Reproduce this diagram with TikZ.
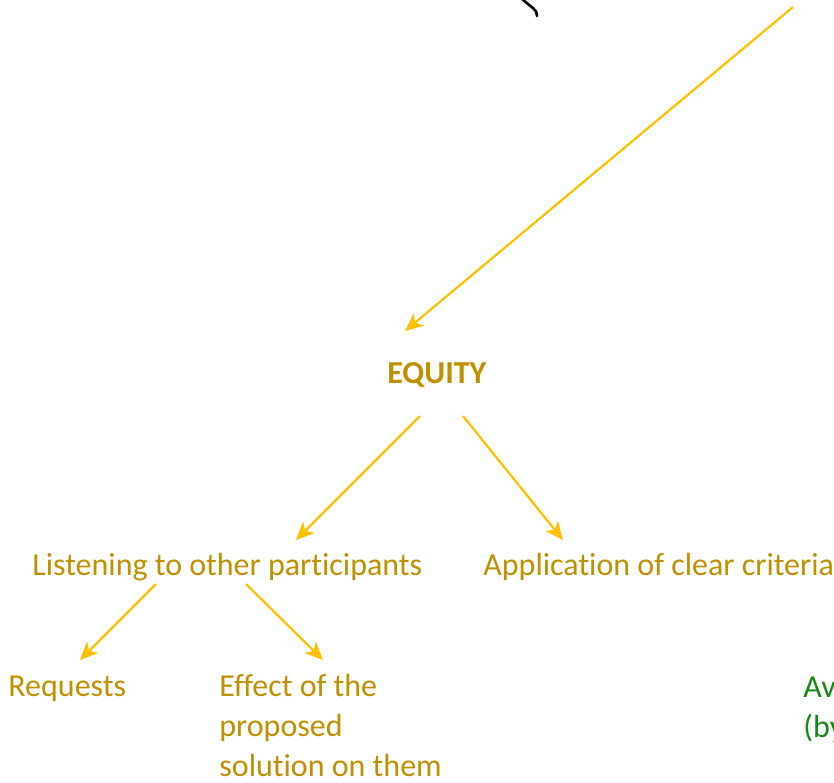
\documentclass[tikz,border=0pt]{standalone}
\usepackage{fontspec}
\setmainfont{Carlito}[Ligatures=NoCommon]
\usetikzlibrary{arrows.meta}
\definecolor{gold}{HTML}{BF9000}
\definecolor{amber}{HTML}{FFC000}
\definecolor{leaf}{RGB}{20,138,20}
\tikzset{
  txt/.style ={anchor=base west,inner sep=0pt,text=gold,align=left,
               font=\fontsize{16}{20}\selectfont},
  ttl/.style ={txt,font=\fontsize{16}{20}\selectfont\bfseries},
  grn/.style ={txt,text=leaf},
  ar/.style  ={draw=amber,line width=1.1pt,-{Stealth[length=9pt,width=8pt,inset=2.5pt]}},
}
\begin{document}
\begin{tikzpicture}[x=0.5pt,y=-0.5pt]
  \useasboundingbox (0,0) rectangle (834,782);
  % loose end of the sketch above
  \draw[line width=1.3pt,line cap=round] (521,-2) .. controls (533,9) and (537,9) .. (537,16);
  \coordinate (src) at (793,7);

  % multi-line nodes sit on their last baseline
  \node[ttl] (equity) at (387,383) {EQUITY};
  \node[txt] (listen) at (32,575)  {Listening to other participants};
  \node[txt] (applic) at (483,575) {Application of clear criteria};
  \node[txt] (req)    at (8,696)   {Requests};
  \node[txt] (effect) at (219,776) {Effect of the\\proposed\\solution on them};
  \node[grn] (avail)  at (803,737) {Av\\(by};

  \draw[ar] (src) -- ([shift={(18,-52)}]equity.base west);
  \draw[ar] ([shift={(33,33)}]equity.base west) -- ([shift={(264,-35)}]listen.base west);
  \draw[ar] ([shift={(76,33)}]equity.base west) -- ([shift={(80,-35)}]applic.base west);
  \draw[ar] ([shift={(124,9)}]listen.base west) -- ([shift={(72,-36)}]req.base west);
  \draw[ar] ([shift={(214,9)}]listen.base west) -- ([shift={(104,-116)}]effect.base west);
\end{tikzpicture}
\end{document}
